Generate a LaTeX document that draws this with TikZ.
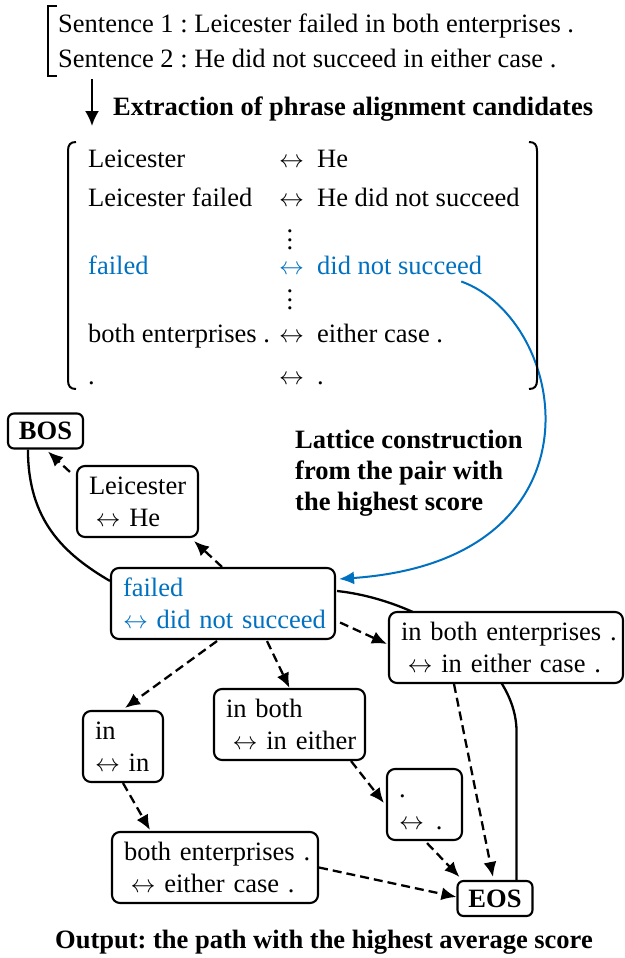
\documentclass[tikz,border=0pt]{standalone}
\usepackage{fontspec}
\setmainfont{Liberation Serif}
\usetikzlibrary{arrows.meta,backgrounds}
\definecolor{hlblue}{RGB}{0,112,192}
\begin{document}
\frenchspacing
\begin{tikzpicture}[x=1pt,y=-1pt,
  every node/.style={font=\fontsize{26.5}{32}\selectfont, inner sep=0pt},
  bfont/.style={font=\fontsize{26.5}{31}\selectfont\bfseries},
  latbox/.style={draw, rounded corners=8pt, line width=2.1pt, fill=white, align=left, inner xsep=12pt, inner ysep=0pt, minimum height=71pt},
  endbox/.style={draw, rounded corners=6pt, line width=2.1pt, fill=white, font=\fontsize{26.5}{32}\selectfont\bfseries, minimum width=75pt, minimum height=35pt, inner sep=0pt},
  dasharrow/.style={line width=2.3pt, dash pattern=on 9pt off 5pt, -{Latex[length=15pt,width=13pt]}},
  solidline/.style={line width=2.3pt},
  celltext/.style={anchor=base west},
  bluearrow/.style={hlblue, line width=2pt, -{Latex[length=15pt,width=13pt]}},
  vdotsnode/.style={font=\fontsize{26.5}{32}\selectfont},
]
\useasboundingbox (0,0) rectangle (624,958);

% top sentences
\node[celltext] (s1) at (58,33) {Sentence 1 : Leicester failed in both enterprises .};
\node[celltext] (s2) at (58,67) {Sentence 2 : He did not succeed in either case .};
\draw[line width=1.8pt] (57,6) -- (48,6) -- (48,76) -- (57,76);

% extraction arrow
\coordinate (ea) at (92,79);
\coordinate (eb) at (92,126);
\draw[line width=2.2pt, -{Latex[length=15pt,width=14pt]}] (ea) -- (eb);
\node[celltext, bfont] (ext) at (113,115) {Extraction of phrase alignment candidates};

% list of candidates
\draw[line width=2pt] (76,142) .. controls (70,142) and (68,145) .. (68,151) -- (68,380) .. controls (68,386) and (70,389) .. (76,389);
\draw[line width=2pt] (529,142) .. controls (535,142) and (537,145) .. (537,151) -- (537,380) .. controls (537,386) and (535,389) .. (529,389);

\node[celltext] (l1) at (88,167) {Leicester};
\node[celltext] (m1) at (279,167) {$\leftrightarrow$};
\node[celltext] (r1) at (317,167) {He};
\node[celltext] (l2) at (88,206) {Leicester failed};
\node[celltext] (m2) at (279,206) {$\leftrightarrow$};
\node[celltext] (r2) at (317,206) {He did not succeed};
\node[vdotsnode] (d1) at (290,240) {\vbox{\baselineskip=8.5pt\hbox{.}\hbox{.}\hbox{.}}};
\node[celltext, text=hlblue] (l3) at (88,274) {failed};
\node[celltext, text=hlblue] (m3) at (279,274) {$\leftrightarrow$};
\node[celltext, text=hlblue] (dns) at (317,274) {did not succeed};
\node[vdotsnode] (d2) at (290,300) {\vbox{\baselineskip=8.5pt\hbox{.}\hbox{.}\hbox{.}}};
\node[celltext] (l4) at (88,342) {both enterprises .};
\node[celltext] (m4) at (279,342) {$\leftrightarrow$};
\node[celltext] (r4) at (317,342) {either case .};
\node[celltext] (l5) at (88,384) {.};
\node[celltext] (m5) at (279,384) {$\leftrightarrow$};
\node[celltext] (r5) at (317,384) {.};

% lattice label
\node[anchor=base west, align=left, bfont] (lat) at (295,510) {Lattice construction\\from the pair with\\the highest score};

% lattice nodes
\node[endbox] (BOS) at (45.5,431) {BOS};
\node[latbox, text width=97pt] (leic) at (137.5,501.5) {\mbox{Leicester}\\\mbox{\hspace*{0.25em}$\leftrightarrow$ He}};
\node[latbox, text width=200pt, text=hlblue] (failed) at (223,603.5) {\mbox{failed}\\\mbox{$\leftrightarrow$ did not succeed}};
\node[latbox, text width=210pt] (ibe) at (506,647.5) {\mbox{in both enterprises .}\\\mbox{\hspace*{0.25em}$\leftrightarrow$ in either case .}};
\node[latbox, text width=56pt] (in) at (123,746.5) {\mbox{in}\\\mbox{$\leftrightarrow$ in}};
\node[latbox, text width=127pt] (inboth) at (289.5,724.5) {\mbox{in both}\\\mbox{\hspace*{0.25em}$\leftrightarrow$ in either}};
\node[latbox, text width=51pt] (dot) at (424.5,804.5) {\mbox{\vphantom{l}.}\\\mbox{$\leftrightarrow$\hspace*{0.45em}.}};
\node[latbox, text width=182pt] (be) at (215,867.5) {\mbox{both enterprises .}\\\mbox{\hspace*{0.25em}$\leftrightarrow$ either case .}};
\node[endbox] (EOS) at (495,898.5) {EOS};

\node[anchor=base, bfont] (out) at (324,948) {Output: the path with the highest average score};

\begin{pgfonlayer}{background}
\draw[dasharrow] ([xshift=-1pt]failed.north) -- ([xshift=-5pt,yshift=-3pt]leic.south east);
\draw[dasharrow] ([xshift=-6pt,yshift=-7pt]leic.north west) -- ([xshift=2.5pt,yshift=-2pt]BOS.south);
\draw[solidline] ([xshift=21pt]BOS.south west) .. controls +(0,71) and +(-46,-27) .. ([yshift=-14pt]failed.north west);
\draw[dasharrow] ([xshift=4pt,yshift=-19pt]failed.east) -- ([xshift=-1pt,yshift=3.5pt]ibe.west);
\draw[solidline] ([xshift=1pt,yshift=12.5pt]failed.east) .. controls +(84,9) and +(0,-71) .. ([xshift=-17pt,yshift=148pt]EOS.north east) -- ([xshift=-17pt]EOS.north east);
\draw[dasharrow] ([xshift=-6pt,yshift=-1pt]failed.south) -- ([xshift=2pt,yshift=2pt]in.north);
\draw[dasharrow] ([xshift=44pt,yshift=-1pt]failed.south) -- (inboth.north);
\draw[dasharrow] ([xshift=-52pt]ibe.south) -- ([xshift=-2pt,yshift=3pt]EOS.north);
\draw[dasharrow] (in.south) -- ([xshift=39pt,yshift=1pt]be.north west);
\draw[dasharrow] ([xshift=-15pt]inboth.south east) -- ([xshift=-2pt,yshift=1.5pt]dot.west);
\draw[dasharrow] ([xshift=2.5pt,yshift=-2pt]dot.south) -- ([xshift=3pt,yshift=3pt]EOS.north west);
\draw[dasharrow] (be.east) -- ([yshift=1.5pt]EOS.west);
\draw[bluearrow] ([xshift=-21pt,yshift=-7pt]dns.south east) .. controls +(108,39) and +(272,-19) .. ([xshift=3pt,yshift=24.5pt]failed.east);
\end{pgfonlayer}
\end{tikzpicture}
\end{document}
